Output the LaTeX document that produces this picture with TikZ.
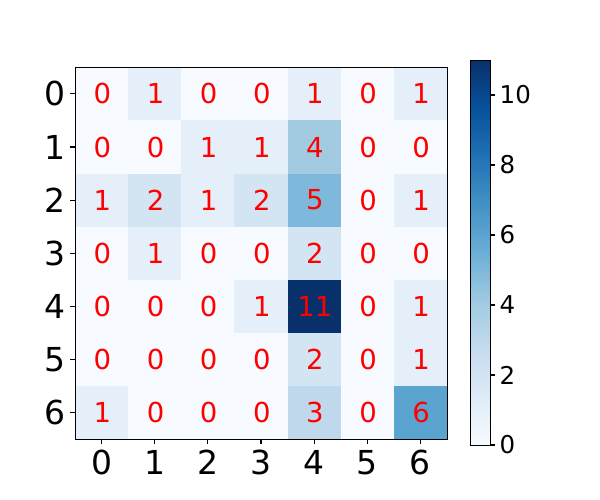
\documentclass[tikz,border=0pt]{standalone}
\usepackage{fontspec}
\setmainfont{DejaVu Sans}
\definecolor{v0}{RGB}{247,251,255}
\definecolor{v1}{RGB}{229,239,249}
\definecolor{v2}{RGB}{211,228,243}
\definecolor{v3}{RGB}{191,216,236}
\definecolor{v4}{RGB}{162,203,226}
\definecolor{v5}{RGB}{126,184,218}
\definecolor{v6}{RGB}{92,164,208}
\definecolor{v11}{RGB}{8,48,107}
\definecolor{c0}{RGB}{247,251,255}
\definecolor{c1}{RGB}{222,235,247}
\definecolor{c2}{RGB}{198,219,239}
\definecolor{c3}{RGB}{158,202,225}
\definecolor{c4}{RGB}{107,174,214}
\definecolor{c5}{RGB}{66,146,198}
\definecolor{c6}{RGB}{33,113,181}
\definecolor{c7}{RGB}{8,81,156}
\definecolor{c8}{RGB}{8,48,107}
\pgfdeclareverticalshading{blues}{100bp}{color(0bp)=(c0); color(25bp)=(c0); color(31.25bp)=(c1); color(37.5bp)=(c2); color(43.75bp)=(c3); color(50bp)=(c4); color(56.25bp)=(c5); color(62.5bp)=(c6); color(68.75bp)=(c7); color(75bp)=(c8); color(100bp)=(c8)}
\begin{document}
\begin{tikzpicture}[x=1pt,y=-1pt,
  celltxt/.style={text=red,font=\fontsize{27.5}{27.5}\selectfont,inner sep=0pt},
  axlab/.style={font=\fontsize{33}{33}\selectfont,inner sep=0pt},
  cblab/.style={font=\fontsize{24.5}{24.5}\selectfont,inner sep=0pt,anchor=west},
  tickline/.style={line width=1.1pt,black}]
\useasboundingbox[fill=white] (0,0) rectangle (600,500);
\def\gx{75}\def\gy{67.3}\def\cs{53.14}
% matrix values
\foreach \row [count=\j from 0] in {{0,1,0,0,1,0,1},{0,0,1,1,4,0,0},{1,2,1,2,5,0,1},{0,1,0,0,2,0,0},{0,0,0,1,11,0,1},{0,0,0,0,2,0,1},{1,0,0,0,3,0,6}}{
  \foreach \v [count=\i from 0] in \row {
    \fill[v\v] ({\gx+\cs*\i},{\gy+\cs*\j}) rectangle ({\gx+\cs*(\i+1)},{\gy+\cs*(\j+1)});
    \node[celltxt] (m\j\i) at ({\gx+\cs*(\i+0.5)+0.8},{\gy+\cs*(\j+0.5)}) {\v};
  }
}
\node[draw,line width=1.1pt,minimum width=372pt,minimum height=372pt,inner sep=0pt,anchor=north west] (grid) at (\gx,\gy) {};
% ticks and labels
\foreach \k in {0,...,6}{
  \coordinate (lt\k) at (\gx,{\gy+\cs*(\k+0.5)});
  \draw[tickline] (lt\k) -- ++(-4.9,0);
  \node[axlab,anchor=east] (yl\k) at ({\gx-9.8},{\gy+\cs*(\k+0.5)}) {\k};
  \coordinate (bt\k) at ({\gx+\cs*(\k+0.5)},{\gy+7*\cs});
  \draw[tickline] (bt\k) -- ++(0,4.9);
  \node[axlab,anchor=north] (xl\k) at ({\gx+\cs*(\k+0.5)},{\gy+7*\cs+10.5}) {\k};
}
% colorbar
\shade[shading=blues] (470,60.3) rectangle (490.3,445);
\node[draw,line width=1.1pt,minimum width=20.3pt,minimum height=384.7pt,inner sep=0pt,anchor=north west] (cbar) at (470,60.3) {};
\foreach \t in {0,2,4,6,8,10}{
  \coordinate (ct\t) at (490.3,{445-35*\t});
  \draw[tickline] (ct\t) -- ++(4.9,0);
  \node[cblab] (cl\t) at ({490.3+9.2},{445-35*\t}) {\t};
}
\end{tikzpicture}
\end{document}
